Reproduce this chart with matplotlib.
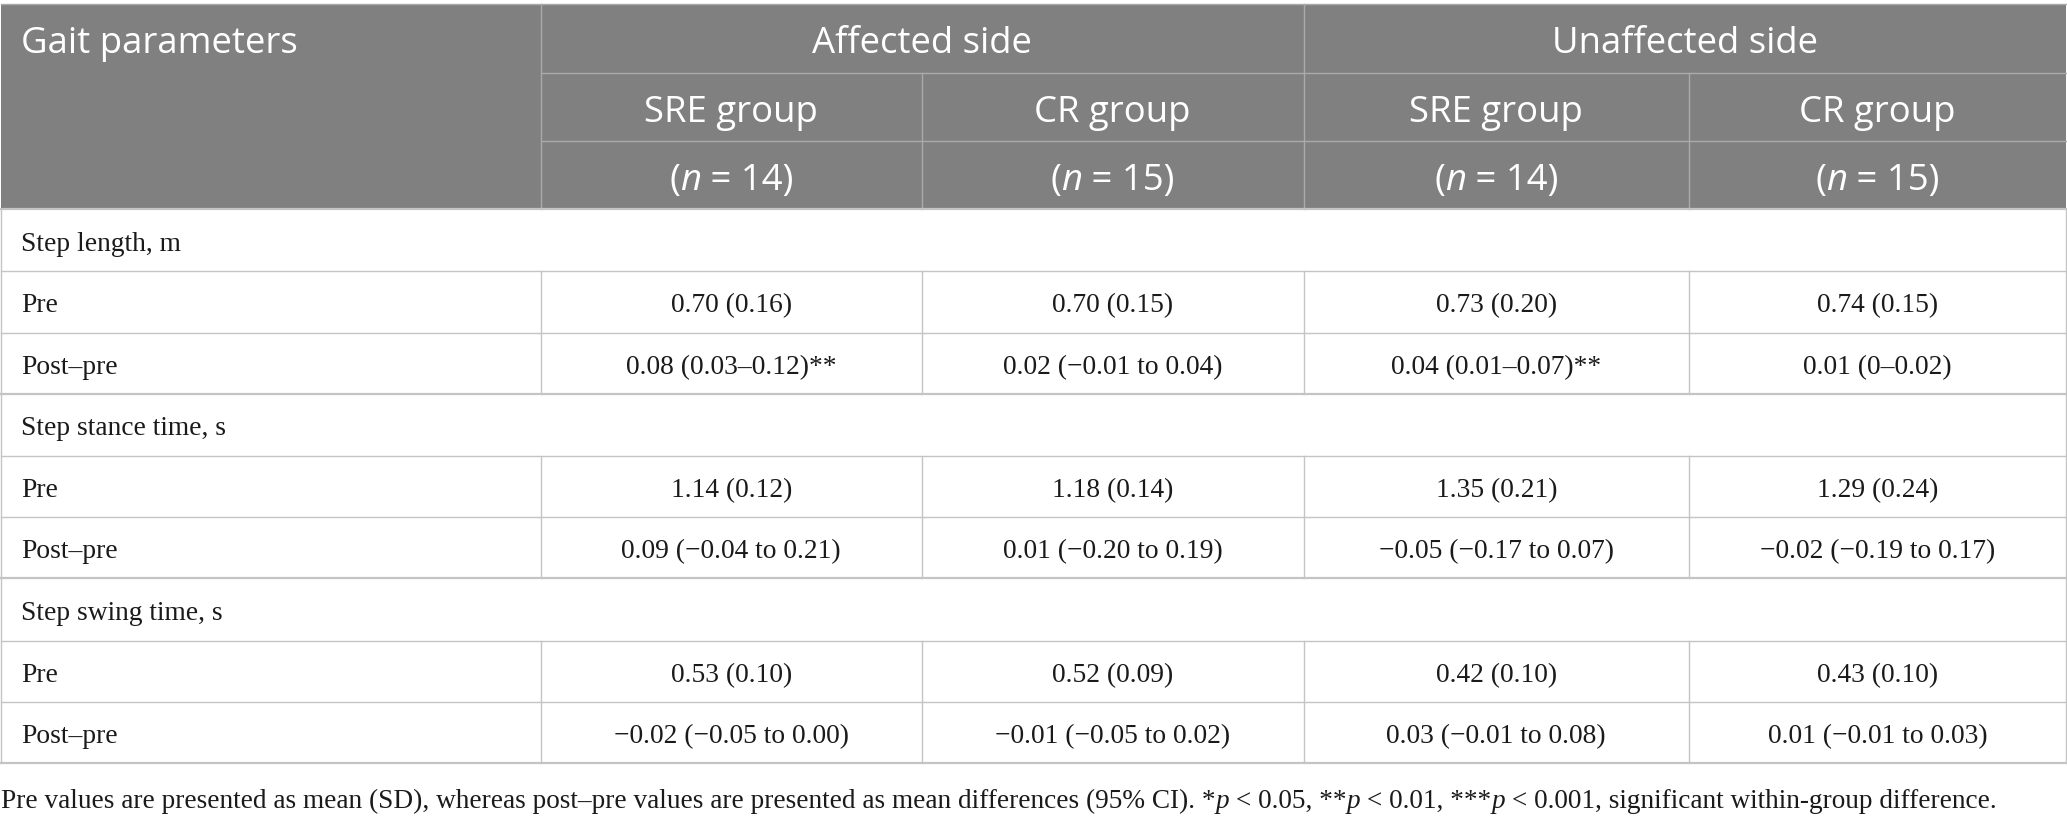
import matplotlib
matplotlib.use("Agg")
import matplotlib.pyplot as plt

# ---------------- data ----------------
header_first = "Gait parameters"
sides = ["Affected side", "Unaffected side"]
groups = ["SRE group", "CR group", "SRE group", "CR group"]
group_n = ["14", "15", "14", "15"]

sections = ["Step length, m", "Step stance time, s", "Step swing time, s"]
row_labels = ["Pre", "Post\u2013pre"]

sre_affected = ["0.70 (0.16)", "0.08 (0.03\u20130.12)**",
                "1.14 (0.12)", "0.09 (\u22120.04 to 0.21)",
                "0.53 (0.10)", "\u22120.02 (\u22120.05 to 0.00)"]
cr_affected = ["0.70 (0.15)", "0.02 (\u22120.01 to 0.04)",
               "1.18 (0.14)", "0.01 (\u22120.20 to 0.19)",
               "0.52 (0.09)", "\u22120.01 (\u22120.05 to 0.02)"]
sre_unaffected = ["0.73 (0.20)", "0.04 (0.01\u20130.07)**",
                  "1.35 (0.21)", "\u22120.05 (\u22120.17 to 0.07)",
                  "0.42 (0.10)", "0.03 (\u22120.01 to 0.08)"]
cr_unaffected = ["0.74 (0.15)", "0.01 (0\u20130.02)",
                 "1.29 (0.24)", "\u22120.02 (\u22120.19 to 0.17)",
                 "0.43 (0.10)", "0.01 (\u22120.01 to 0.03)"]
value_columns = [sre_affected, cr_affected, sre_unaffected, cr_unaffected]

footnote_parts = [
    ("Pre values are presented as mean (SD), whereas post\u2013pre values are presented as mean differences (95% CI). *", "normal"),
    ("p", "italic"), (" < 0.05, **", "normal"),
    ("p", "italic"), (" < 0.01, ***", "normal"),
    ("p", "italic"), (" < 0.001, significant within-group difference.", "normal"),
]

# ---------------- layout ----------------
W, H = 2067, 818
col_edges = [0.5, 540.5, 922, 1303.5, 1689, 2066]
header_edges = [4, 72.7, 141, 209]
body_edges = [209, 271, 332.5, 394, 455.7, 517, 578.3, 640.7, 702, 763.3]

HEAD_BG = "#7f807f"
HEAD_LINE = "#a9aaa9"
BODY_LINE = "#c4c4c4"
SANS = "Open Sans"
SERIF = "Liberation Serif"
HEAD_FS = 26.3
BODY_FS = 19.8
FOOT_FS = 19.6

fig = plt.figure(figsize=(W / 100, H / 100), dpi=100)
ax = fig.add_axes([0, 0, 1, 1])
ax.set_xlim(0, W)
ax.set_ylim(H, 0)
ax.axis("off")
renderer = fig.canvas.get_renderer()


def text_width(s, **kw):
    t1 = ax.text(0, 0, "x" + s + "x", **kw)
    t2 = ax.text(0, 0, "xx", **kw)
    w = t1.get_window_extent(renderer).width - t2.get_window_extent(renderer).width
    t1.remove(); t2.remove()
    return w


def rich(x, y, parts, ha="left", **kw):
    widths = [text_width(s, fontstyle=st, **kw) for s, st in parts]
    total = sum(widths)
    if ha == "center":
        x = x - total / 2
    for (s, st), w in zip(parts, widths):
        ax.text(x, y, s, fontstyle=st, ha="left", va="baseline", **kw)
        x += w


# header background
ax.add_patch(plt.Rectangle((col_edges[0], header_edges[0]), col_edges[-1] - col_edges[0],
                           header_edges[-1] - header_edges[0], facecolor=HEAD_BG,
                           edgecolor="none", zorder=0))

# header lines
lw = 1.0
ax.plot([col_edges[0], col_edges[-1]], [header_edges[0]] * 2, color=HEAD_LINE, lw=lw)
for yy in header_edges[1:3]:
    ax.plot([col_edges[1], col_edges[-1]], [yy, yy], color=HEAD_LINE, lw=lw)
for xx in (col_edges[1], col_edges[3]):
    ax.plot([xx, xx], [header_edges[0], header_edges[-1]], color=HEAD_LINE, lw=lw)
for xx in (col_edges[2], col_edges[4]):
    ax.plot([xx, xx], [header_edges[1], header_edges[-1]], color=HEAD_LINE, lw=lw)

# header text
def hbase(i):
    top, bot = header_edges[i], header_edges[i + 1]
    return top + 0.715 * (bot - top)

head_kw = dict(family=SANS, fontsize=HEAD_FS, color="white")
ax.text(21, hbase(0), header_first, ha="left", va="baseline", **head_kw)
for k, s in enumerate(sides):
    cx = (col_edges[1 + 2 * k] + col_edges[3 + 2 * k]) / 2
    ax.text(cx, hbase(0), s, ha="center", va="baseline", **head_kw)
for k, g in enumerate(groups):
    cx = (col_edges[1 + k] + col_edges[2 + k]) / 2
    ax.text(cx, hbase(1), g, ha="center", va="baseline", **head_kw)
    rich(cx, hbase(2), [("(", "normal"), ("n", "italic"), (" = " + group_n[k] + ")", "normal")],
         ha="center", **head_kw)

# body
body_kw = dict(family=SERIF, fontsize=BODY_FS, color="#1a1a1a")
n_rows = len(body_edges) - 1
for i in range(n_rows):
    top, bot = body_edges[i], body_edges[i + 1]
    base = top + 0.672 * (bot - top)
    sec, sub = divmod(i, 3)
    if sub == 0:
        ax.text(21, base, sections[sec], ha="left", va="baseline", **body_kw)
    else:
        ax.text(21, base, row_labels[sub - 1], ha="left", va="baseline", **body_kw)
        idx = sec * 2 + (sub - 1)
        for k, colvals in enumerate(value_columns):
            cx = (col_edges[1 + k] + col_edges[2 + k]) / 2
            ax.text(cx, base, colvals[idx], ha="center", va="baseline", **body_kw)
        for xx in col_edges[1:-1]:
            ax.plot([xx, xx], [top, bot], color=BODY_LINE, lw=lw)

for j, yy in enumerate(body_edges):
    thick = 1.6 if (j % 3 == 0) else 1.0
    ax.plot([col_edges[0], col_edges[-1]], [yy, yy], color=BODY_LINE, lw=thick)
for xx in (col_edges[0], col_edges[-1]):
    ax.plot([xx, xx], [body_edges[0], body_edges[-1]], color=BODY_LINE, lw=lw)

# footnote
rich(1, 808, footnote_parts, ha="left", family=SERIF, fontsize=FOOT_FS, color="#1a1a1a")

fig.savefig("out.png", dpi=100)
